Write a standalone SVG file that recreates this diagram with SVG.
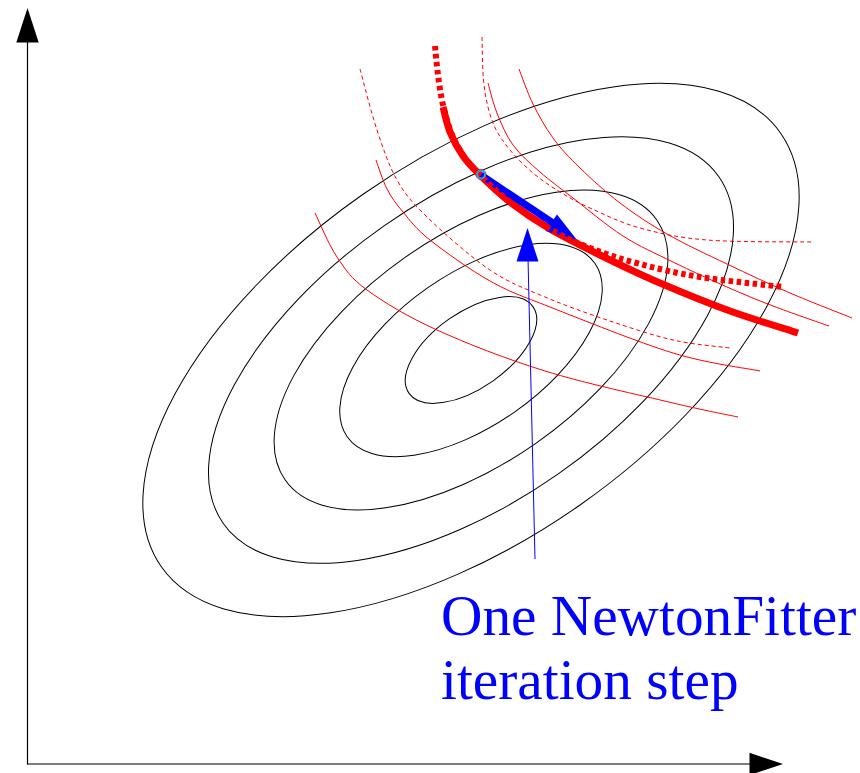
<svg xmlns="http://www.w3.org/2000/svg" width="860" height="773" viewBox="0 0 860 773">
<style>
.ax{stroke:#000;stroke-width:1.2;fill:none}
.ah{fill:#000;stroke:none}
.ell{fill:none;stroke:#000;stroke-width:1}
.rc{fill:none;stroke:#f00;stroke-width:1}
.rd{fill:none;stroke:#f00;stroke-width:1;stroke-dasharray:4 3}
.lbl{font-family:"Liberation Serif","Times New Roman",serif;font-size:57.3px;fill:#00f}
</style>
<rect width="860" height="773" fill="#fff"/>
<g id="axes">
<line class="ax" x1="27.5" y1="42" x2="27.5" y2="764.5"/>
<line class="ax" x1="27" y1="764" x2="751" y2="764"/>
<polygon class="ah" points="27.5,8 16.3,42.5 38.7,42.5"/>
<polygon class="ah" points="783,764 749.5,752.8 749.5,775.2"/>
</g>
<g id="contours" transform="translate(471,350) rotate(-35)">
<ellipse class="ell" rx="75.6" ry="37.9"/>
<ellipse class="ell" rx="151.2" ry="75.8"/>
<ellipse class="ell" rx="226.8" ry="113.7"/>
<ellipse class="ell" rx="302.4" ry="151.6"/>
<ellipse class="ell" rx="378" ry="189.5"/>
</g>
<g id="constraint-curves">
<path class="rc" d="M315,213 C318.7,220.3 328.3,244.2 337,257 C345.7,269.8 350.3,277.8 367,290 C383.7,302.2 407.3,316.5 437,330 C466.7,343.5 505.7,358.8 545,371 C584.3,383.2 640.8,395.3 673,403 C705.2,410.7 727.2,414.7 738,417"/>
<path class="rc" d="M376,160 C377.8,164.8 382.5,180.3 387,189 C391.5,197.7 395.8,203.5 403,212 C410.2,220.5 415.5,228.5 430,240 C444.5,251.5 470,269.8 490,281 C510,292.2 519.5,295 550,307 C580.5,319 638,342.3 673,353 C708,363.7 745.5,368 760,371"/>
<path class="rd" d="M360,69 C362.8,79.2 370.8,111.5 377,130 C383.2,148.5 388.7,165.5 397,180 C405.3,194.5 411.5,202 427,217 C442.5,232 470.3,256.7 490,270 C509.7,283.3 525.5,288.7 545,297 C564.5,305.3 585.7,312.8 607,320 C628.3,327.2 652.5,335.3 673,340 C693.5,344.7 720.5,346.7 730,348"/>
<path class="rd" d="M482,37 C482.3,45 482.2,70.7 484,85 C485.8,99.3 488.7,112.2 493,123 C497.3,133.8 503.3,141.7 510,150 C516.7,158.3 524.7,166 533,173 C541.3,180 550.5,186.2 560,192 C569.5,197.8 576.7,202 590,208 C603.3,214 620.5,222.7 640,228 C659.5,233.3 678.3,237.7 707,240 C735.7,242.3 794.5,241.7 812,242"/>
<path class="rc" d="M488,83 C489.5,88 492.8,102.7 497,113 C501.2,123.3 505.8,135.2 513,145 C520.2,154.8 530,163.2 540,172 C550,180.8 559.2,187.3 573,198 C586.8,208.7 606.3,225.3 623,236 C639.7,246.7 655.7,253.5 673,262 C690.3,270.5 710.3,279.7 727,287 C743.7,294.3 756,299.5 773,306 C790,312.5 819.7,322.7 829,326"/>
<path class="rc" d="M519,69 C521.3,74.8 527.3,92.5 533,104 C538.7,115.5 545.2,127.3 553,138 C560.8,148.7 568.8,157.2 580,168 C591.2,178.8 605.5,192 620,203 C634.5,214 649.2,223.8 667,234 C684.8,244.2 706.5,254.2 727,264 C747.5,273.8 769.2,284 790,293 C810.8,302 841.7,313.8 852,318"/>
</g>
<g id="solution-curve-after">
<path fill="none" stroke="#f00" stroke-width="7" d="M443,107 C444.2,111.2 446.7,123.8 450,132 C453.3,140.2 458,148.8 463,156 C468,163.2 472.2,167.3 480,175 C487.8,182.7 498.3,193 510,202 C521.7,211 535,220.2 550,229 C565,237.8 581.7,246 600,255 C618.3,264 638.3,273.7 660,283 C681.7,292.3 707,302.7 730,311 C753,319.3 786.7,329.3 798,333"/>
</g>
<g id="step-arrow">
<line x1="481" y1="175" x2="553" y2="223" stroke="#00f" stroke-width="7"/>
<polygon points="577,240 557,214.5 545.5,231" fill="#00f"/>
</g>
<g id="solution-curve-before">
<path fill="none" stroke="#f00" stroke-width="6" stroke-dasharray="4.5 3.5" d="M435,46 C435.5,50.8 436.7,65.2 438,75 C439.3,84.8 440.7,95 443,105 C445.3,115 448.3,126.2 452,135 C455.7,143.8 460.3,151.3 465,158 C469.7,164.7 472.5,167.7 480,175 C487.5,182.3 498.3,193 510,202 C521.7,211 536.7,221.3 550,229 C563.3,236.7 575,242.2 590,248 C605,253.8 621.7,259.2 640,264 C658.3,268.8 676.2,273.2 700,277 C723.8,280.8 769.2,285.3 783,287"/>
</g>
<g id="start-point">
<circle cx="481" cy="174.5" r="5" fill="none" stroke="#f00" stroke-width="1"/>
<circle cx="481" cy="174.5" r="4" fill="none" stroke="#1aa8e0" stroke-width="2"/>
</g>
<g id="pointer">
<line x1="535" y1="559" x2="528" y2="258" stroke="#00f" stroke-width="1"/>
<polygon points="527.5,228 516.5,261.5 538.5,261.5" fill="#00f"/>
</g>
<g id="label">
<text class="lbl" x="441" y="635">One NewtonFitter</text>
<text class="lbl" x="441" y="699">iteration step</text>
</g>
</svg>
